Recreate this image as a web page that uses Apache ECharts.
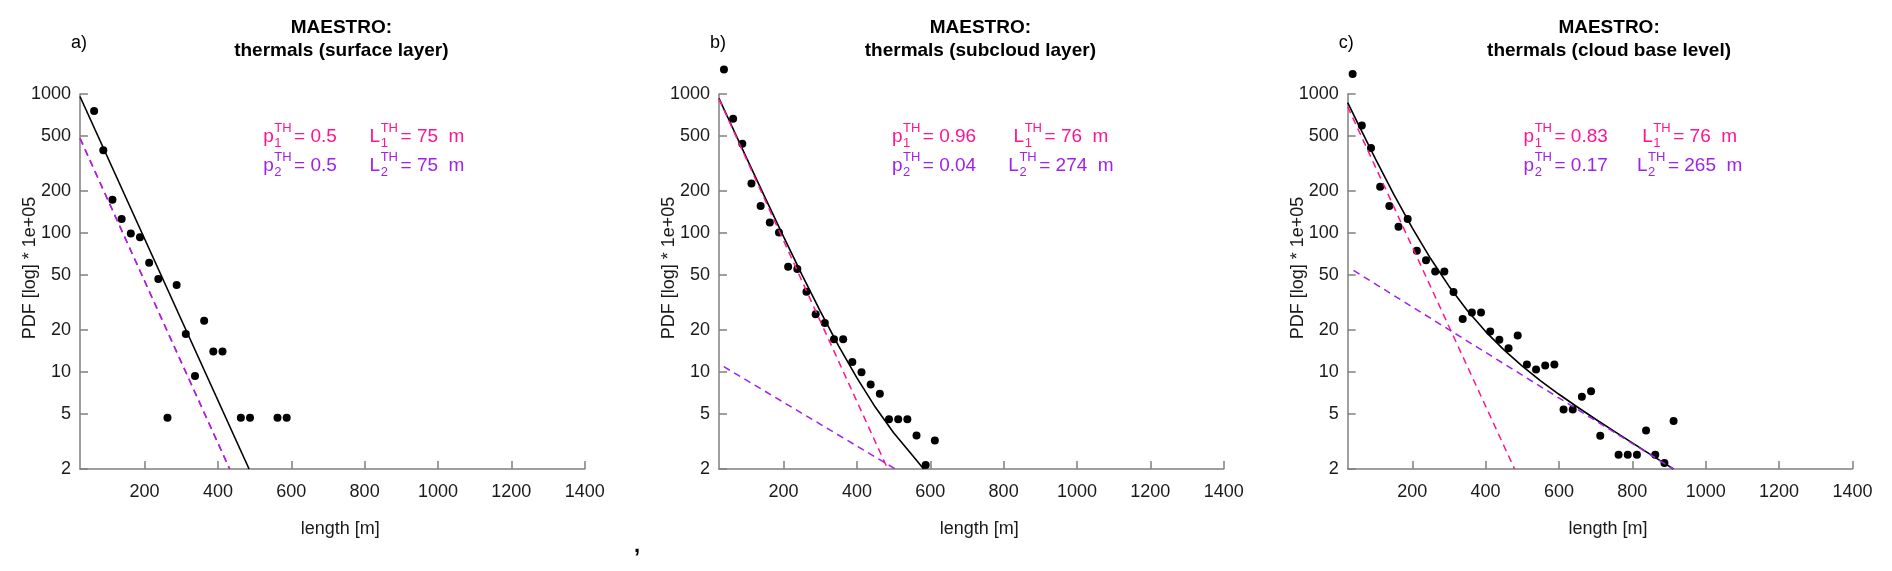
<!DOCTYPE html>
<html>
<head>
<meta charset="utf-8">
<script src="https://cdn.jsdelivr.net/npm/echarts@6/dist/echarts.min.js"></script>
<style>
html,body{margin:0;padding:0;background:#fff;}
#chart{width:1892px;height:571px;}
</style>
</head>
<body>
<div id="chart"></div>
<script>
// ---------- data ----------
const xTicks = [200, 400, 600, 800, 1000, 1200, 1400];
const yTicks = [2, 5, 10, 20, 50, 100, 200, 500, 1000];

const panelLabels = ['a)', 'b)', 'c)'];
const titles = ['MAESTRO:\nthermals (surface layer)', 'MAESTRO:\nthermals (subcloud layer)', 'MAESTRO:\nthermals (cloud base level)'];

// empirical PDF points (length [m], PDF*1e5)
const lenA = [62.5, 87.5, 112.5, 137.5, 162.5, 187.5, 212.5, 237.5, 262.5, 287.5, 312.5, 337.5, 362.5, 387.5, 412.5, 462.5, 487.5, 562.5, 587.5];
const pdfA = [753, 394, 173, 126, 99, 93, 61, 46.7, 4.67, 42.2, 18.7, 9.35, 23.3, 14.0, 14.0, 4.67, 4.67, 4.67, 4.67];

const lenB = [37.5, 62.5, 87.5, 112.5, 137.5, 162.5, 187.5, 212.5, 237.5, 262.5, 287.5, 312.5, 337.5, 362.5, 387.5, 412.5, 437.5, 462.5, 487.5, 512.5, 537.5, 562.5, 587.5, 612.5];
const pdfB = [1500, 664, 439, 227, 156, 119, 100.6, 57, 55, 37.8, 26.0, 22.5, 17.2, 17.2, 11.8, 9.93, 8.1, 6.97, 4.56, 4.56, 4.56, 3.49, 2.14, 3.21];

const lenC = [37.5, 62.5, 87.5, 112.5, 137.5, 162.5, 187.5, 212.5, 237.5, 262.5, 287.5, 312.5, 337.5, 362.5, 387.5, 412.5, 437.5, 462.5, 487.5, 512.5, 537.5, 562.5, 587.5, 612.5, 637.5, 662.5, 687.5, 712.5, 762.5, 787.5, 812.5, 837.5, 862.5, 887.5, 912.5];
const pdfC = [1394, 594, 409, 215, 156, 111, 126, 74.3, 63.5, 52.7, 52.7, 37.6, 24.0, 26.8, 26.8, 19.5, 17.0, 14.8, 18.3, 11.3, 10.4, 11.1, 11.3, 5.37, 5.37, 6.63, 7.26, 3.47, 2.53, 2.53, 2.53, 3.78, 2.53, 2.21, 4.43];

// fitted total curve (black), first (pink) and second (purple) exponential
const fitLenA = [24, 485];
const fitTotA = [960, 2];
const fit1LenA = [24, 432];
const fit1A = [480, 2];
const fit2LenA = [24, 432];
const fit2A = [480, 2];

const fitLenB = [24, 50, 100, 150, 200, 250, 300, 350, 400, 450, 500, 550, 582];
const fitTotB = [931, 661, 343, 179, 94.1, 50.2, 27.4, 15.4, 9.05, 5.58, 3.65, 2.53, 2.0];
const fit1LenB = [24, 484];
const fit1B = [920, 2];
const fit2LenB = [37, 505];
const fit2B = [10.9, 2];

const fitLenC = [24, 50, 100, 150, 200, 250, 300, 350, 400, 450, 500, 550, 600, 650, 700, 750, 800, 850, 900, 912];
const fitTotC = [867, 627, 340, 189, 108.8, 65.4, 41.4, 27.7, 19.5, 14.4, 11.0, 8.63, 6.9, 5.59, 4.56, 3.75, 3.08, 2.54, 2.1, 2.0];
const fit1LenC = [24, 479];
const fit1C = [810, 2];
const fit2LenC = [40, 912];
const fit2C = [53.7, 2];

// annotation values
const p1Text = ['0.5', '0.96', '0.83'];
const p2Text = ['0.5', '0.04', '0.17'];
const L1Text = ['75', '76', '76'];
const L2Text = ['75', '274', '265'];

// ---------- layout / style ----------
const FONT = '"Liberation Sans", Arial, Helvetica, sans-serif';
const PINK = '#ff1493';
const PURPLE = '#a020f0';
const AXIS = '#808080';
const TXT = '#1a1a1a';
const gridLeft = [80, 719, 1347.7];
const gridTop = 94, gridW = 504.7, gridH = 375;
const pCenter = [220, 215, 218];
const lCenter = [337, 342, 342];

function zip(a, b) { return a.map((v, i) => [v, b[i]]); }
function plain(v) { return String(v); }

const panels = [
  {pts: zip(lenA, pdfA), tot: zip(fitLenA, fitTotA), f1: zip(fit1LenA, fit1A), f2: zip(fit2LenA, fit2A)},
  {pts: zip(lenB, pdfB), tot: zip(fitLenB, fitTotB), f1: zip(fit1LenB, fit1B), f2: zip(fit2LenB, fit2B)},
  {pts: zip(lenC, pdfC), tot: zip(fitLenC, fitTotC), f1: zip(fit1LenC, fit1C), f2: zip(fit2LenC, fit2C)}
];

const grids = [], xAxes = [], yAxes = [], series = [], graphics = [];

panels.forEach((p, i) => {
  grids.push({left: gridLeft[i], top: gridTop, width: gridW, height: gridH, containLabel: false});
  xAxes.push({
    gridIndex: i, type: 'value', min: 24, max: 1400,
    axisLine: {show: true, lineStyle: {color: AXIS, width: 1.5}},
    axisTick: {show: true, inside: true, length: 8, customValues: xTicks, lineStyle: {color: AXIS, width: 1.5}},
    axisLabel: {show: true, customValues: xTicks, formatter: plain, color: TXT, fontSize: 18, fontFamily: FONT, margin: 14},
    splitLine: {show: false},
    name: 'length [m]', nameLocation: 'middle', nameGap: 51, nameMoveOverlap: false,
    nameTextStyle: {color: TXT, fontSize: 18, fontFamily: FONT, padding: [0, 0, 0, 16]}
  });
  yAxes.push({
    gridIndex: i, type: 'log', logBase: 10, min: 2, max: 1000,
    axisLine: {show: true, lineStyle: {color: AXIS, width: 1.5}},
    axisTick: {show: true, inside: true, length: 8, customValues: yTicks, lineStyle: {color: AXIS, width: 1.5}},
    axisLabel: {show: true, customValues: yTicks, formatter: plain, color: TXT, fontSize: 18, fontFamily: FONT, margin: 9},
    splitLine: {show: false},
    name: 'PDF [log] * 1e+05', nameLocation: 'middle', nameRotate: 90, nameGap: 41, nameMoveOverlap: false,
    nameTextStyle: {color: TXT, fontSize: 18, fontFamily: FONT, padding: [0, 0, 0, 27]}
  });
  series.push({type: 'scatter', xAxisIndex: i, yAxisIndex: i, data: p.pts, symbol: 'circle', symbolSize: 8,
    itemStyle: {color: '#000', opacity: 1}, clip: false, z: 2});
  series.push({type: 'line', xAxisIndex: i, yAxisIndex: i, data: p.tot, showSymbol: false, symbol: 'none',
    lineStyle: {color: '#000', width: 1.6}, clip: true, z: 3});
  series.push({type: 'line', xAxisIndex: i, yAxisIndex: i, data: p.f1, showSymbol: false, symbol: 'none',
    lineStyle: {color: PINK, width: 1.5, type: [7, 5]}, clip: true, z: 4});
  series.push({type: 'line', xAxisIndex: i, yAxisIndex: i, data: p.f2, showSymbol: false, symbol: 'none',
    lineStyle: {color: PURPLE, width: 1.5, type: [7, 5]}, clip: true, z: 5});

  // titles and panel labels
  graphics.push({type: 'text', x: gridLeft[i] + gridW / 2 + 9, y: 16,
    style: {text: titles[i], font: 'bold 19px ' + FONT, fill: '#000', lineHeight: 23,
      textAlign: 'center', align: 'center', textVerticalAlign: 'top', verticalAlign: 'top'}});
  graphics.push({type: 'text', x: gridLeft[i] - 9, y: 43,
    style: {text: panelLabels[i], font: '18px ' + FONT, fill: '#000',
      textAlign: 'left', align: 'left', textVerticalAlign: 'middle', verticalAlign: 'middle'}});
});

// ---------- annotation expressions p_k^TH = ..., L_k^TH = ... m ----------
const mctx = document.createElement('canvas').getContext('2d');
function tw(t, f) { mctx.font = f; return mctx.measureText(t).width; }
const FMAIN = '19px ' + FONT, FSMALL = '13px ' + FONT;
function txt(x, y, t, f, c) {
  return {type: 'text', x: x, y: y, style: {text: t, font: f, fill: c,
    textAlign: 'left', align: 'left', textVerticalAlign: 'middle', verticalAlign: 'middle'}};
}
function expr(cx, cy, base, idx, rest, color) {
  const wb = tw(base, FMAIN), ws = Math.max(tw('TH', FSMALL), tw(idx, FSMALL)), wr = tw(rest, FMAIN);
  const gap = 3;
  const x0 = cx - (wb + ws + gap + wr) / 2;
  graphics.push(txt(x0, cy, base, FMAIN, color));
  graphics.push(txt(x0 + wb + 0.5, cy - 8.5, 'TH', FSMALL, color));
  graphics.push(txt(x0 + wb + 0.5, cy + 6.5, idx, FSMALL, color));
  graphics.push(txt(x0 + wb + ws + gap, cy, rest, FMAIN, color));
}
for (let i = 0; i < 3; i++) {
  expr(gridLeft[i] + pCenter[i], 137, 'p', '1', '= ' + p1Text[i], PINK);
  expr(gridLeft[i] + lCenter[i], 137, 'L', '1', '= ' + L1Text[i] + '  m', PINK);
  expr(gridLeft[i] + pCenter[i], 166, 'p', '2', '= ' + p2Text[i], PURPLE);
  expr(gridLeft[i] + lCenter[i], 166, 'L', '2', '= ' + L2Text[i] + '  m', PURPLE);
}
// stray mark in the original figure
graphics.push({type: 'text', x: 634, y: 546, style: {text: ',', font: 'bold 22px ' + FONT, fill: '#000',
  textAlign: 'left', align: 'left', textVerticalAlign: 'middle', verticalAlign: 'middle'}});

const chart = echarts.init(document.getElementById('chart'), null, {renderer: 'canvas'});
chart.setOption({
  animation: false,
  backgroundColor: '#fff',
  grid: grids,
  xAxis: xAxes,
  yAxis: yAxes,
  series: series,
  graphic: graphics
});
</script>
</body>
</html>
